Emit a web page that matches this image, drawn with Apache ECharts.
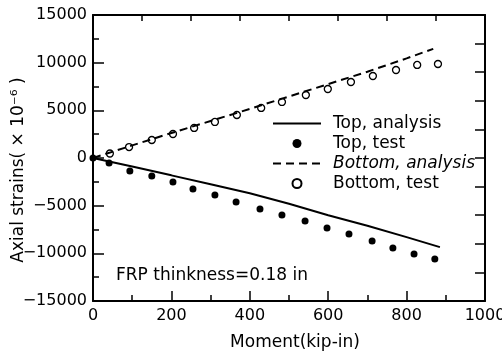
<!DOCTYPE html>
<html><head><meta charset="utf-8">
<script src="https://cdn.jsdelivr.net/npm/echarts@6/dist/echarts.min.js"></script>
<style>html,body{margin:0;padding:0;background:#fff}#c{width:502px;height:356px}</style>
</head><body><div id="c"></div>
<script>
// Data
const topAnalysisX = [0, 100, 200, 300, 400, 500, 600, 700, 800, 885];
const topAnalysisY = [0, -900, -1820, -2750, -3700, -4800, -6000, -7100, -8300, -9350];
const topTestX = [0, 41, 94, 150, 204, 255, 311, 365, 426, 482, 541, 597, 653, 712, 765, 819, 872];
const topTestY = [0, -525, -1360, -1890, -2520, -3250, -3880, -4620, -5350, -5980, -6610, -7350, -7970, -8710, -9440, -10070, -10600];
const bottomAnalysisX = [0, 100, 200, 300, 400, 500, 600, 700, 800, 868];
const bottomAnalysisY = [0, 1320, 2620, 3880, 5150, 6450, 7750, 9050, 10450, 11450];
const bottomTestX = [43, 92, 150, 204, 258, 311, 367, 429, 482, 543, 599, 658, 714, 773, 827, 880];
const bottomTestY = [470, 1150, 1890, 2520, 3150, 3780, 4510, 5250, 5880, 6610, 7240, 7970, 8600, 9230, 9760, 9860];
const seriesNames = ['Top, analysis', 'Top, test', 'Bottom, analysis', 'Bottom, test'];
const xName = 'Moment(kip-in)';
const yName = 'Axial strains( × 10⁻⁶ )';
const note = 'FRP thinkness=0.18 in';

const zip = (xs, ys) => xs.map((x, i) => [x, ys[i]]);
const FONT = 'DejaVu Sans';
const tickStyle = { color: '#000', width: 1.5 };
const chart = echarts.init(document.getElementById('c'));
chart.setOption({
  animation: false,
  backgroundColor: '#fff',
  textStyle: { fontFamily: FONT, color: '#000' },
  grid: { left: 93, right: 17, top: 15, bottom: 55, outerBoundsMode: 'none', containLabel: false },
  xAxis: [{
    type: 'value', min: 0, max: 1000, interval: 200, position: 'bottom',
    name: xName, nameLocation: 'middle', nameGap: 33, nameMoveOverlap: false,
    nameTextStyle: { fontFamily: FONT, fontSize: 17, color: '#000', padding: [0, 0, 0, 12] },
    axisLine: { show: true, onZero: false, lineStyle: { color: '#000', width: 2 } },
    axisTick: { show: true, inside: true, length: 10, lineStyle: tickStyle },
    minorTick: { show: true, splitNumber: 2, length: 6, lineStyle: tickStyle },
    axisLabel: { fontFamily: FONT, fontSize: 16, color: '#000', margin: 7, formatter: v => String(v) },
    splitLine: { show: false }
  }, {
    type: 'value', min: 0, max: 1000, interval: 125, position: 'top',
    axisLine: { show: true, onZero: false, lineStyle: { color: '#000', width: 2 } },
    axisTick: { show: true, inside: true, length: 6, lineStyle: tickStyle },
    axisLabel: { show: false }, splitLine: { show: false }
  }],
  yAxis: [{
    type: 'value', min: -15000, max: 15000, interval: 5000, position: 'left',
    name: yName, nameLocation: 'middle', nameGap: 66, nameRotate: 90, nameMoveOverlap: false,
    nameTextStyle: { fontFamily: FONT, fontSize: 17, color: '#000', padding: [0, 24, 0, 0] },
    axisLine: { show: true, onZero: false, lineStyle: { color: '#000', width: 2 } },
    axisTick: { show: true, inside: true, length: 11, lineStyle: tickStyle },
    minorTick: { show: true, splitNumber: 2, length: 6, lineStyle: tickStyle },
    axisLabel: { fontFamily: FONT, fontSize: 16, color: '#000', margin: 6,
      formatter: v => String(v).replace('-', '−') },
    splitLine: { show: false }
  }, {
    type: 'value', min: -15000, max: 15000, interval: 3000, position: 'right',
    axisLine: { show: true, onZero: false, lineStyle: { color: '#000', width: 2 } },
    axisTick: { show: true, inside: true, length: 10, lineStyle: tickStyle },
    axisLabel: { show: false }, splitLine: { show: false }
  }],
  legend: {
    orient: 'vertical', left: 272, top: 115, padding: 0, itemGap: 3,
    itemWidth: 48, itemHeight: 9,
    textStyle: { fontFamily: FONT, fontSize: 17, color: '#000', padding: [0, 0, 0, 7] },
    data: [
      { name: seriesNames[0], itemStyle: { opacity: 0 } },
      { name: seriesNames[1], itemStyle: { opacity: 1 } },
      { name: seriesNames[2], itemStyle: { opacity: 0 }, textStyle: { fontStyle: 'italic' } },
      { name: seriesNames[3], itemStyle: { opacity: 1 } }
    ]
  },
  graphic: [{
    type: 'text', left: 116, top: 267,
    style: { text: note, fontFamily: FONT, fontSize: 17, fill: '#000' }
  }],
  series: [{
    name: seriesNames[0], type: 'line', data: zip(topAnalysisX, topAnalysisY),
    symbol: 'none', lineStyle: { color: '#000', width: 2 }, itemStyle: { color: '#000' }
  }, {
    name: seriesNames[1], type: 'scatter', data: zip(topTestX, topTestY),
    symbol: 'circle', symbolSize: 7, itemStyle: { color: '#000', opacity: 1 }
  }, {
    name: seriesNames[2], type: 'line', data: zip(bottomAnalysisX, bottomAnalysisY),
    symbol: 'none', lineStyle: { color: '#000', width: 2, type: [8, 5] }, itemStyle: { color: '#000' }
  }, {
    name: seriesNames[3], type: 'scatter', data: zip(bottomTestX, bottomTestY),
    symbol: 'circle', symbolSize: 7,
    itemStyle: { color: '#fff', borderColor: '#000', borderWidth: 1.3, opacity: 1 }
  }]
});
</script></body></html>
